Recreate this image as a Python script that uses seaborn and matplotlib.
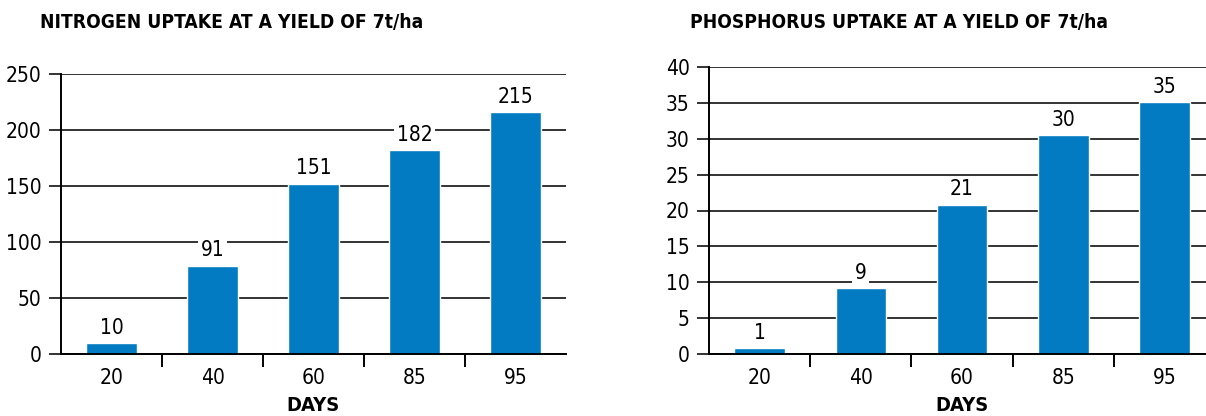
import numpy as np
import pandas as pd
import seaborn as sns
import matplotlib
matplotlib.use("Agg")
import matplotlib.pyplot as plt

# Data
days = ['20', '40', '60', '85', '95']
nitrogen_bars = [10, 79, 152, 182, 216]
nitrogen_labels = ['10', '91', '151', '182', '215']
phosphorus_bars = [0.8, 9.2, 20.8, 30.5, 35.1]
phosphorus_labels = ['1', '9', '21', '30', '35']

nitrogen_ticks = [0, 50, 100, 150, 200, 250]
phosphorus_ticks = [0, 5, 10, 15, 20, 25, 30, 35, 40]

sns.set_style('white')
plt.rcParams['font.family'] = ['DejaVu Sans']
plt.rcParams['font.stretch'] = 'condensed'
plt.rcParams['text.color'] = 'black'
plt.rcParams['xtick.color'] = 'black'
plt.rcParams['ytick.color'] = 'black'
plt.rcParams['axes.labelcolor'] = 'black'

bar_colour = '#037bc3'
grid_colour = '#333333'

W, H = 1206, 416
fig = plt.figure(figsize=(W / 100, H / 100), dpi=100)


def px_axes(x0, x1, ytop, ybot):
    return fig.add_axes([x0 / W, 1 - ybot / H, (x1 - x0) / W, (ybot - ytop) / H])


def draw_panel(ax, bars, labels, ticks, title, title_x):
    df = pd.DataFrame({'Days': days, 'Uptake': bars})
    sns.barplot(data=df, x='Days', y='Uptake', color=bar_colour, width=0.5,
                saturation=1, ax=ax, zorder=2)
    ax.set_xlim(-0.5, 4.5)
    ax.set_ylim(ticks[0], ticks[-1])
    ax.set_yticks(ticks)
    ax.set_yticklabels([str(t) for t in ticks], fontsize=15)
    ax.set_axisbelow(True)
    ax.yaxis.grid(True, color=grid_colour, linewidth=1.4)
    ax.xaxis.grid(False)
    for s in ['top', 'right']:
        ax.spines[s].set_visible(False)
    for s in ['left', 'bottom']:
        ax.spines[s].set_color('black')
        ax.spines[s].set_linewidth(1.4)
        ax.spines[s].set_zorder(3)
    ax.tick_params(axis='y', length=9, width=1.4, color=grid_colour, pad=5, left=True)
    ax.tick_params(axis='x', which='major', length=0, pad=10, labelsize=15)
    ax.set_xticks([0.5, 1.5, 2.5, 3.5], minor=True)
    ax.tick_params(axis='x', which='minor', length=9, width=1.4, color='black',
                   direction='out', bottom=True)
    ax.set_ylabel('')
    ax.set_xlabel('DAYS', fontsize=14.5, fontweight='bold', labelpad=6)
    # value labels above the bars, with white boxes cutting the grid
    for i, (b, lab) in enumerate(zip(bars, labels)):
        ax.annotate(lab, xy=(i, b), xytext=(0, 11), textcoords='offset points',
                    ha='center', va='center', fontsize=15, zorder=4,
                    bbox=dict(boxstyle='square,pad=0.12', fc='white', ec='none'))
    fig.text(title_x / W, 1 - 22 / H, title, fontsize=13.8, fontweight='bold',
             ha='left', va='center')


ax1 = px_axes(61, 566, 74, 354)
draw_panel(ax1, nitrogen_bars, nitrogen_labels, nitrogen_ticks,
           'NITROGEN UPTAKE AT A YIELD OF 7t/ha', 40)

ax2 = px_axes(709, 1215, 67, 354)
draw_panel(ax2, phosphorus_bars, phosphorus_labels, phosphorus_ticks,
           'PHOSPHORUS UPTAKE AT A YIELD OF 7t/ha', 690)

fig.savefig('out.png', dpi=100)
